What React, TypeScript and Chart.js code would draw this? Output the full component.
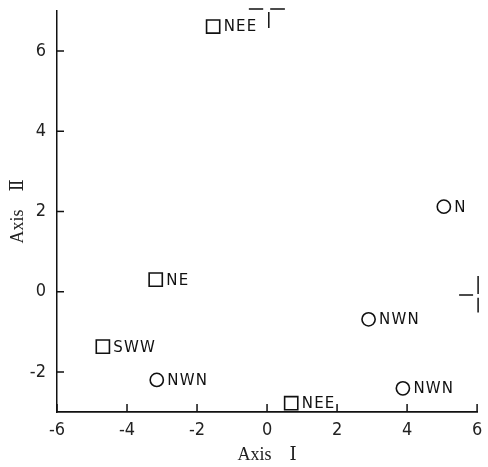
import React, { useEffect, useRef } from 'react';
import { Chart, registerables } from 'chart.js';

Chart.register(...registerables);

// ---- data ----
const squareX = [-1.54, -3.18, -4.69, 0.69];
const squareY = [6.61, 0.3, -1.37, -2.78];
const squareLabels = ['NEE', 'NE', 'SWW', 'NEE'];

const circleX = [5.05, 2.9, -3.15, 3.88];
const circleY = [2.12, -0.69, -2.2, -2.41];
const circleLabels = ['N', 'NWN', 'NWN', 'NWN'];

const xTicks = [-6, -4, -2, 0, 2, 4, 6];
const yTicks = [-2, 0, 2, 4, 6];
const xMin = -6;
const xMax = 6;
const yMin = -3;
const yMax = 7;

const xTitle = 'Axis\u3000\u2160';
const yTitle = 'Axis\u3000\u2161';

// remnant frame fragments (data units)
const topFrameSegments = [[-0.52, -0.11], [0.09, 0.51]];
const topTickX = 0.05;
const rightFrameSegments = [[0.39, -0.06], [-0.15, -0.52]];
const rightTickY = -0.08;

const INK = '#111';

const innerTicksPlugin = {
  id: 'innerTicks',
  afterDraw(chart: any) {
    const { ctx, chartArea } = chart;
    const xs = chart.scales.x;
    const ys = chart.scales.y;
    ctx.save();
    ctx.strokeStyle = INK;
    ctx.lineWidth = 1.5;
    ctx.beginPath();
    for (const v of xTicks) {
      const px = xs.getPixelForValue(v);
      ctx.moveTo(px, chartArea.bottom);
      ctx.lineTo(px, chartArea.bottom - 8);
    }
    for (const v of yTicks) {
      const py = ys.getPixelForValue(v);
      ctx.moveTo(chartArea.left, py);
      ctx.lineTo(chartArea.left + 7, py);
    }
    for (const [a, b] of topFrameSegments) {
      ctx.moveTo(xs.getPixelForValue(a), chartArea.top - 2);
      ctx.lineTo(xs.getPixelForValue(b), chartArea.top - 2);
    }
    const tx = xs.getPixelForValue(topTickX);
    ctx.moveTo(tx, chartArea.top + 1);
    ctx.lineTo(tx, chartArea.top + 17);
    for (const [a, b] of rightFrameSegments) {
      ctx.moveTo(chartArea.right + 1, ys.getPixelForValue(a));
      ctx.lineTo(chartArea.right + 1, ys.getPixelForValue(b));
    }
    const ry = ys.getPixelForValue(rightTickY);
    ctx.moveTo(chartArea.right - 18, ry);
    ctx.lineTo(chartArea.right - 4, ry);
    ctx.stroke();
    ctx.restore();
  },
};

const pointLabelsPlugin = {
  id: 'pointLabels',
  afterDatasetsDraw(chart: any) {
    const { ctx } = chart;
    ctx.save();
    ctx.fillStyle = INK;
    ctx.font = "15px 'DejaVu Sans', sans-serif";
    ctx.textBaseline = 'middle';
    ctx.textAlign = 'left';
    try { (ctx as any).letterSpacing = '1.2px'; } catch (e) {}
    chart.data.datasets.forEach((ds: any, i: number) => {
      const meta = chart.getDatasetMeta(i);
      meta.data.forEach((el: any, j: number) => {
        ctx.fillText(ds.labels[j], el.x + 10.5, el.y + 1);
      });
    });
    ctx.restore();
  },
};

export default function App() {
  const ref = useRef<HTMLCanvasElement | null>(null);
  useEffect(() => {
    document.body.style.margin = '0';
    if (!ref.current) return;
    const tickFont = {
      family: "'Liberation Sans Narrow', 'DejaVu Sans Condensed', sans-serif",
      size: 18,
      lineHeight: 1.2,
    };
    const titleFont = {
      family: "'Liberation Serif', 'DejaVu Serif', 'Noto Sans CJK JP', serif",
      size: 18,
      lineHeight: 1.2,
    };
    const chart = new Chart(ref.current, {
      type: 'scatter',
      data: {
        datasets: [
          {
            data: squareX.map((x, i) => ({ x, y: squareY[i] })),
            labels: squareLabels,
            pointStyle: 'rect',
            pointRadius: 9.3,
            pointBorderWidth: 1.6,
            borderColor: INK,
            backgroundColor: 'rgba(255,255,255,0)',
          } as any,
          {
            data: circleX.map((x, i) => ({ x, y: circleY[i] })),
            labels: circleLabels,
            pointStyle: 'circle',
            pointRadius: 6.6,
            pointBorderWidth: 1.6,
            borderColor: INK,
            backgroundColor: 'rgba(255,255,255,0)',
          } as any,
        ],
      },
      options: {
        animation: false,
        responsive: false,
        devicePixelRatio: 1,
        clip: false as any,
        layout: { padding: { left: 0, top: 9, right: 4, bottom: 0 } },
        plugins: {
          legend: { display: false },
          tooltip: { enabled: false },
        },
        scales: {
          x: {
            type: 'linear',
            min: xMin,
            max: xMax,
            afterBuildTicks: (s: any) => { s.ticks = xTicks.map((v) => ({ value: v })); },
            afterFit: (s: any) => { s.height = 55; s.paddingLeft = 0; s.paddingRight = 0; },
            grid: { display: false, drawTicks: false },
            border: { display: true, color: INK, width: 1.8 },
            ticks: {
              color: '#222',
              font: tickFont,
              padding: 8,
              maxRotation: 0,
              autoSkip: false,
            },
            title: {
              display: true,
              text: xTitle,
              color: '#222',
              font: titleFont,
              padding: { top: 0, bottom: 1 },
            },
          },
          y: {
            type: 'linear',
            min: yMin,
            max: yMax,
            afterBuildTicks: (s: any) => { s.ticks = yTicks.map((v) => ({ value: v })); },
            afterFit: (s: any) => { s.width = 57; s.paddingTop = 0; s.paddingBottom = 0; },
            grid: { display: false, drawTicks: false },
            border: { display: true, color: INK, width: 1.5 },
            ticks: {
              color: '#222',
              font: tickFont,
              padding: 11,
              autoSkip: false,
            },
            title: {
              display: true,
              text: yTitle,
              color: '#222',
              font: titleFont,
              padding: { top: 7, bottom: 0 },
            },
          },
        },
      },
      plugins: [innerTicksPlugin, pointLabelsPlugin],
    } as any);
    return () => chart.destroy();
  }, []);
  return (
    <div style={{ width: 488, height: 467 }}>
      <canvas ref={ref} width={488} height={467} style={{ display: 'block' }} />
    </div>
  );
}
